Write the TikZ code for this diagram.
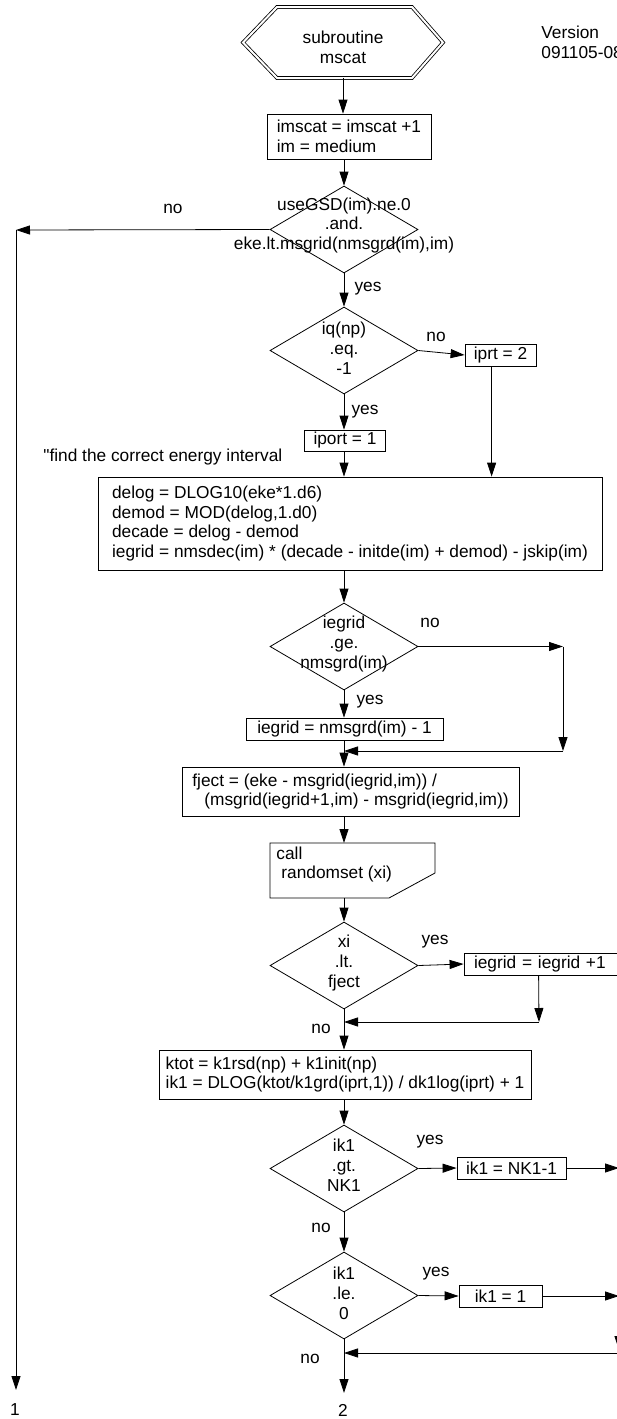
\documentclass[tikz,border=0pt]{standalone}
\usepackage{fontspec}
\setmainfont{Liberation Sans}
\usetikzlibrary{arrows.meta, positioning, shapes.geometric, calc}

\begin{document}
\begin{tikzpicture}[
    x=1pt, y=-1pt,
    every node/.style={font=\fontsize{17.3}{19.8}\selectfont},
    line width=0.8pt,
    >={Triangle[length=14pt, width=9pt]},
    proc/.style={draw, rectangle, align=left, inner sep=0pt},
    decision/.style={draw, diamond, minimum width=148pt, minimum height=87pt, inner sep=0pt},
    dtext/.style={align=center, inner sep=0pt},
    blank/.style={inner sep=0pt, outer sep=0pt}
  ]
  \useasboundingbox (0,0) rectangle (617,1419);
  \clip (0,0) rectangle (617,1419);

  % Start
  \node[blank, minimum width=200pt, minimum height=71pt] (start) at (343,42.5) {};
  \draw[double, double distance=2pt] (start.west) -- ($(start.north west)+(34,0)$)
    -- ($(start.north east)+(-31,0)$) -- (start.east) -- ($(start.south east)+(-31,0)$)
    -- ($(start.south west)+(34,0)$) -- cycle;
  \node[dtext] (starttxt) at (343,47) {subroutine\\mscat};
  \node[align=left, anchor=west, inner sep=0pt] (version) at (541,42) {Version\\091105-08};

  \node[proc, minimum width=164pt, minimum height=45pt] (incr) at (349,136.5) {imscat = imscat +1\\im = medium};

  % Grid check
  \node[decision] (chk1) at (344,229.5) {};
  \node[dtext] (chk1txt) at (344,225.5) {useGSD(im).ne.0\\.and.\\eke.lt.msgrid(nmsgrd(im),im)};
  \node (n1) at (173,209) {no};
  \node (y1) at (368,289) {yes};
  \coordinate (c1) at (16,230);
  \coordinate (e1) at (16,1390);
  \node (out1) at (15,1410) {1};

  % Particle type
  \node[decision] (chk2) at (344,350.5) {};
  \node[dtext] (chk2txt) at (344,348) {iq(np)\\.eq.\\-1};
  \node (n2) at (436,337) {no};
  \node (y2) at (365,412) {yes};
  \node[proc, minimum width=71pt, minimum height=22pt] (iprt2) at (500.5,355) {iprt = 2};
  \node[proc, minimum width=81pt, minimum height=21pt] (iprt1) at (345,440.5) {iport = 1};
  \node[anchor=west, inner sep=0pt] (note) at (43,457) {\textquotedbl find the correct energy interval};
  \coordinate (c2) at ($(iprt2.south west)+(27,0)$);

  \node[proc, minimum width=504pt, minimum height=93pt] (egrid) at (350,523.5)
    {delog = DLOG10(eke*1.d6)\\demod = MOD(delog,1.d0)\\decade = delog - demod\\iegrid = nmsdec(im) * (decade - initde(im) + demod) - jskip(im)};

  % Upper grid limit
  \node[decision] (chk3) at (344,646.5) {};
  \node[dtext] (chk3txt) at (344,644) {iegrid\\.ge.\\nmsgrd(im)};
  \node (n3) at (430,623) {no};
  \node (y3) at (370,702) {yes};
  \node[proc, minimum width=197pt, minimum height=22pt] (egmax) at (344.5,729) {iegrid = nmsgrd(im) - 1};
  \coordinate (c3) at (563,646.5);
  \coordinate (c4) at (563,751);

  \node[proc, minimum width=337pt, minimum height=49pt] (frac) at (350.5,791.5)
    {fject = (eke - msgrid(iegrid,im)) /\\\hspace*{12pt}(msgrid(iegrid+1,im) - msgrid(iegrid,im))};

  % Random number
  \node[blank, minimum width=165pt, minimum height=55pt] (rnd) at (352.5,870.5) {};
  \draw (rnd.north west) -- (rnd.north east) -- ($(rnd.north east)+(0,30)$)
    -- ($(rnd.south east)+(-46,0)$) -- (rnd.south west) -- cycle;
  \node[align=left, anchor=west, inner sep=0pt] (rndtxt) at (276,864.5) {call\\\hspace*{5pt}randomset (xi)};

  \node[decision] (chk4) at (344,965.5) {};
  \node[dtext] (chk4txt) at (344,963) {xi\\.lt.\\fject};
  \node (y4) at (435,942) {yes};
  \node (n4) at (321,1029) {no};
  \node[proc, text width=156pt, inner xsep=10pt, minimum height=22pt] (egup) at (552,964) {iegrid = iegrid +1};
  \coordinate (c5) at (539,1022);

  \node[proc, minimum width=372pt, minimum height=49pt] (kbox) at (345,1074.5)
    {ktot = k1rsd(np) + k1init(np)\\ik1 = DLOG(ktot/k1grd(iprt,1)) / dk1log(iprt) + 1};

  % k1 limits
  \node[decision] (chk5) at (344,1168.5) {};
  \node[dtext] (chk5txt) at (344,1165) {ik1\\.gt.\\NK1};
  \node (y5) at (430,1142) {yes};
  \node (n5) at (321,1228) {no};
  \node[proc, minimum width=109pt, minimum height=22pt] (kmax) at (511.5,1168) {ik1 = NK1-1};

  \node[decision] (chk6) at (344,1295.5) {};
  \node[dtext] (chk6txt) at (344,1293) {ik1\\.le.\\0};
  \node (y6) at (436,1274) {yes};
  \node (n6) at (310,1359) {no};
  \node[proc, minimum width=83pt, minimum height=22pt] (kmin) at (500.5,1296) {ik1 = 1};
  \coordinate (c7) at (619,1168);
  \coordinate (c7b) at (619,1350);
  \coordinate (c8) at (619,1353);
  \coordinate (e2) at (344,1393);
  \node (out2) at (343,1410) {2};

  % Connectors
  \draw[->] (start.south) -- (start.south |- incr.north);
  \draw[->] (incr.south -| chk1.north) -- (chk1.north);
  \draw[->] (chk1.west) -- (c1);
  \draw[->] (c1) -- (e1);
  \draw[->] (chk1.south) -- (chk2.north);
  \draw[->] (chk2.east) -- (iprt2.west);
  \draw[->] (c2) -- (c2 |- egrid.north);
  \draw[->] (chk2.south) -- (iprt1.north -| chk2.south);
  \draw[->] (iprt1.south -| chk2.south) -- (egrid.north -| chk2.south);
  \draw[->] (egrid.south -| chk3.north) -- (chk3.north);
  \draw[->] (chk3.east) -- (c3);
  \draw[->] (c3) -- (c4);
  \draw[->] (c4) -- (c4 -| chk3.south);
  \draw[->] (chk3.south) -- (egmax.north -| chk3.south);
  \draw[->] (egmax.south -| chk3.south) -- (frac.north -| chk3.south);
  \draw[->] (frac.south -| chk4.north) -- (rnd.north -| chk4.north);
  \draw[->] (rnd.south -| chk4.north) -- (chk4.north);
  \draw[->] (chk4.east) -- (egup.west);
  \draw[->] ($(egup.south west)+(75,0)$) -- (c5);
  \draw[->] (c5) -- (c5 -| chk4.south);
  \draw[->] (chk4.south) -- (kbox.north -| chk4.south);
  \draw[->] (kbox.south -| chk5.north) -- (chk5.north);
  \draw[->] (chk5.east) -- (kmax.west);
  \draw[->] (kmax.east) -- (kmax.east -| c7);
  \draw[->] (chk5.south) -- (chk6.north);
  \draw[->] (chk6.east) -- (kmin.west);
  \draw[->] (kmin.east) -- (kmin.east -| c7);
  \draw[->] (c7) -- (c7b);
  \draw[->] (c8) -- (c8 -| chk6.south);
  \draw[->] (chk6.south) -- (e2);
\end{tikzpicture}
\end{document}
